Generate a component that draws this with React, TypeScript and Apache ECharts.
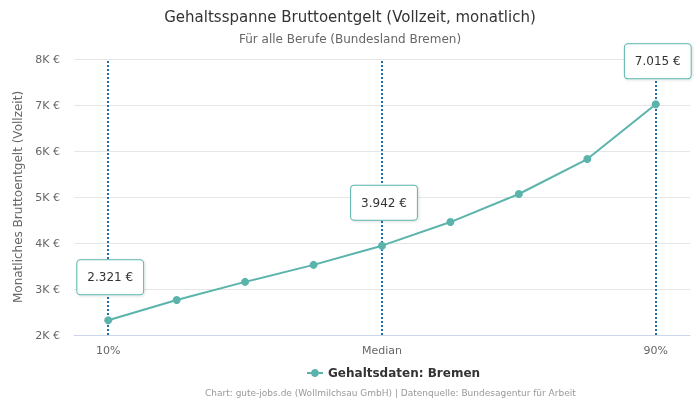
import React, { useEffect, useRef } from "react";
import * as echarts from "echarts";

const categories = ["10%", "20%", "30%", "40%", "Median", "60%", "70%", "80%", "90%"];
const shownLabels = ["10%", "Median", "90%"];
const salaries = [2321, 2760, 3155, 3525, 3942, 4455, 5065, 5825, 7015];
const highlighted = [0, 4, 8];
const yTicks = [2000, 3000, 4000, 5000, 6000, 7000, 8000];

const TEAL = "#5ab4ac";
const FONT = "DejaVu Sans, Verdana, sans-serif";

function fmtEuro(v: number) {
  return v.toLocaleString("de-DE") + " €";
}

export default function App() {
  const ref = useRef<HTMLDivElement>(null);
  useEffect(() => {
    if (!ref.current) return;
    const chart = echarts.init(ref.current, undefined, { renderer: "svg" });
    chart.setOption({
      animation: false,
      textStyle: { fontFamily: FONT },
      title: [
        {
          text: "Gehaltsspanne Bruttoentgelt (Vollzeit, monatlich)",
          left: "center",
          top: 4,
          textStyle: { fontSize: 15, fontWeight: "normal", color: "#333", fontFamily: FONT },
        },
        {
          text: "Für alle Berufe (Bundesland Bremen)",
          left: "center",
          top: 28,
          textStyle: { fontSize: 12, fontWeight: "normal", color: "#666", fontFamily: FONT },
        },
        {
          text: "Chart: gute-jobs.de (Wollmilchsau GmbH) | Datenquelle: Bundesagentur für Arbeit",
          left: 200,
          top: 383,
          textStyle: { fontSize: 9, fontWeight: "normal", color: "#999", fontFamily: FONT },
        },
      ],
      legend: {
        top: 362,
        left: 302,
        itemWidth: 16,
        itemHeight: 8,
        itemGap: 5,
        icon: "path://M0,3 H4.1 A4,4 0 1,1 4.1,5 H0 Z M11.9,3 H16 V5 H11.9 A4,4 0 0,0 11.9,3 Z",
        textStyle: { fontSize: 12, fontWeight: "bold", color: "#333", fontFamily: FONT },
        data: ["Gehaltsdaten: Bremen"],
      },
      grid: { left: 74, right: 10, top: 59, bottom: 65 },
      xAxis: {
        type: "category",
        data: categories,
        boundaryGap: true,
        axisLine: { lineStyle: { color: "#ccd6eb" } },
        axisTick: { show: false },
        axisLabel: {
          interval: 0,
          color: "#666",
          fontSize: 11,
          margin: 10,
          formatter: (v: string) => (shownLabels.includes(v) ? v : ""),
        },
      },
      yAxis: {
        type: "value",
        min: 2000,
        max: 8000,
        interval: 1000,
        name: "Monatliches Bruttoentgelt (Vollzeit)",
        nameLocation: "middle",
        nameGap: 46,
        nameTextStyle: { color: "#666", fontSize: 12, fontFamily: FONT },
        axisLabel: {
          color: "#666",
          fontSize: 11,
          margin: 14,
          formatter: (v: number) => (yTicks.includes(v) ? v / 1000 + "K €" : ""),
        },
        splitLine: { lineStyle: { color: "#e6e6e6" } },
      },
      series: [
        {
          name: "Gehaltsdaten: Bremen",
          type: "line",
          data: salaries.map((v, i) =>
            highlighted.includes(i)
              ? {
                  value: v,
                  label: {
                    show: true,
                    position: "top",
                    distance: 22,
                    offset: [2, 0],
                    formatter: () => fmtEuro(v),
                    backgroundColor: "#fff",
                    borderColor: TEAL,
                    borderWidth: 1,
                    borderRadius: 3,
                    padding: [11, 10, 11, 10],
                    color: "#333",
                    fontSize: 12,
                    fontFamily: FONT,
                    shadowColor: "rgba(0,0,0,0.12)",
                    shadowBlur: 3,
                    shadowOffsetX: 1,
                    shadowOffsetY: 1,
                  },
                }
              : v
          ),
          symbol: "circle",
          symbolSize: 8,
          lineStyle: { color: TEAL, width: 2 },
          itemStyle: { color: TEAL },
          z: 3,
          markLine: {
            silent: true,
            symbol: "none",
            label: { show: false },
            lineStyle: { color: "#1f6fa8", type: "dotted", width: 2 },
            data: highlighted.map((i) => ({ xAxis: categories[i] })),
            z: 1,
          },
        },
      ],
    });
    return () => chart.dispose();
  }, []);
  return <div ref={ref} style={{ position: "fixed", left: 0, top: 0, width: 700, height: 400 }} />;
}
